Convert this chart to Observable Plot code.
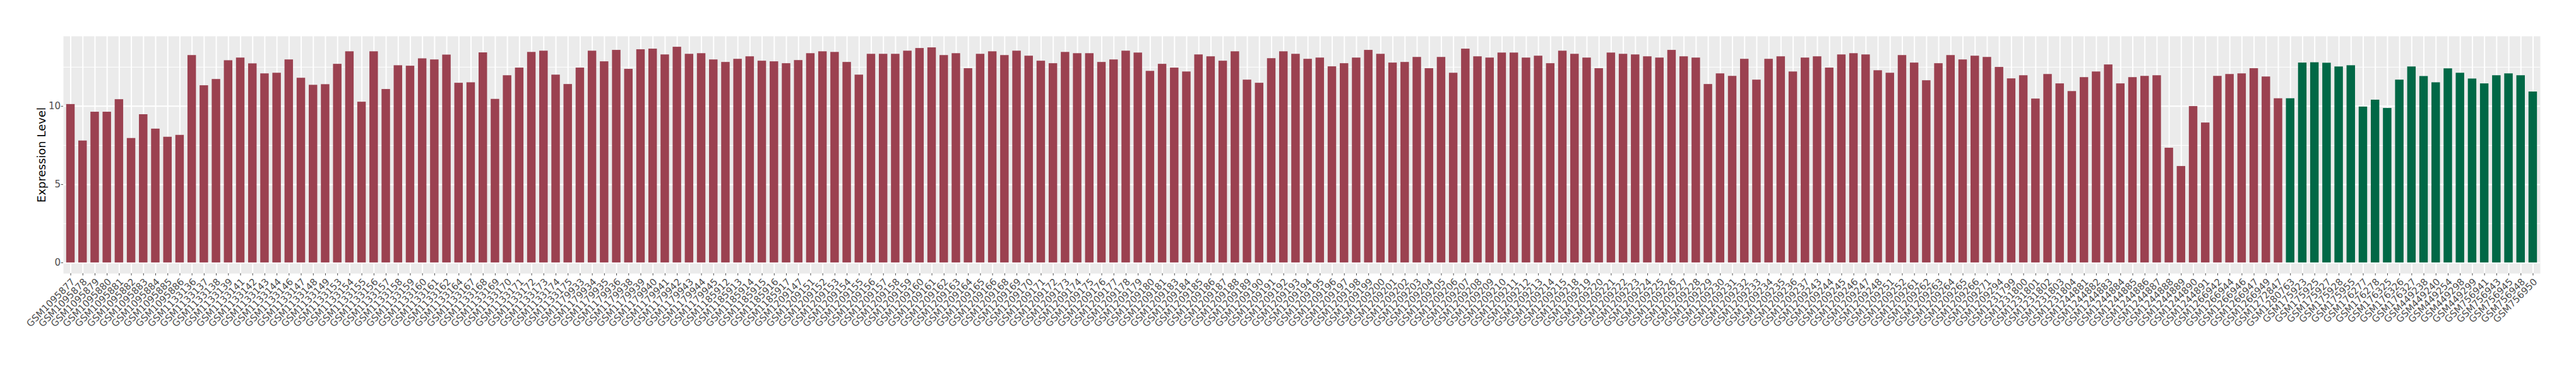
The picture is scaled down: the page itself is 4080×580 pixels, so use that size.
<!DOCTYPE html>
<html><head><meta charset="utf-8">
<script src="https://cdn.jsdelivr.net/npm/d3@7"></script>
<script src="https://cdn.jsdelivr.net/npm/@observablehq/plot@0.6"></script>
<style>body{margin:0;background:#fff;}</style>
</head><body><div id="chart"></div>
<script>
const redSamples = [
"GSM1095877","GSM1095878","GSM1095879","GSM1095880","GSM1095881","GSM1095882","GSM1095883","GSM1095884","GSM1095885","GSM1095886",
"GSM1133136","GSM1133137","GSM1133138","GSM1133139","GSM1133141","GSM1133142","GSM1133143","GSM1133144","GSM1133146","GSM1133147",
"GSM1133148","GSM1133149","GSM1133153","GSM1133154","GSM1133155","GSM1133156","GSM1133157","GSM1133158","GSM1133159","GSM1133160",
"GSM1133161","GSM1133162","GSM1133164","GSM1133167","GSM1133168","GSM1133169","GSM1133170","GSM1133171","GSM1133172","GSM1133173",
"GSM1133174","GSM1133175","GSM1179933","GSM1179934","GSM1179935","GSM1179936","GSM1179938","GSM1179939","GSM1179940","GSM1179941",
"GSM1179942","GSM1179943","GSM1179944","GSM1179945","GSM1185912","GSM1185913","GSM1185914","GSM1185915","GSM1185916","GSM1185917",
"GSM1209147","GSM1209151","GSM1209152","GSM1209153","GSM1209154","GSM1209155","GSM1209156","GSM1209157","GSM1209158","GSM1209159",
"GSM1209160","GSM1209161","GSM1209162","GSM1209163","GSM1209164","GSM1209165","GSM1209166","GSM1209168","GSM1209169","GSM1209170",
"GSM1209171","GSM1209172","GSM1209173","GSM1209174","GSM1209175","GSM1209176","GSM1209177","GSM1209178","GSM1209179","GSM1209180",
"GSM1209181","GSM1209183","GSM1209184","GSM1209185","GSM1209186","GSM1209187","GSM1209188","GSM1209189","GSM1209190","GSM1209191",
"GSM1209192","GSM1209193","GSM1209194","GSM1209195","GSM1209196","GSM1209197","GSM1209198","GSM1209199","GSM1209200","GSM1209201",
"GSM1209202","GSM1209203","GSM1209204","GSM1209205","GSM1209206","GSM1209207","GSM1209208","GSM1209209","GSM1209210","GSM1209211",
"GSM1209212","GSM1209213","GSM1209214","GSM1209215","GSM1209218","GSM1209219","GSM1209220","GSM1209221","GSM1209222","GSM1209223",
"GSM1209224","GSM1209225","GSM1209226","GSM1209227","GSM1209228","GSM1209229","GSM1209230","GSM1209231","GSM1209232","GSM1209233",
"GSM1209234","GSM1209235","GSM1209236","GSM1209237","GSM1209243","GSM1209244","GSM1209245","GSM1209246","GSM1209247","GSM1209248",
"GSM1209251","GSM1209252","GSM1209261","GSM1209262","GSM1209263","GSM1209264","GSM1209265","GSM1209266","GSM1209271","GSM1209294",
"GSM1231799","GSM1231800","GSM1231801","GSM1231802","GSM1231803","GSM1231804","GSM1244881","GSM1244882","GSM1244883","GSM1244884",
"GSM1244885","GSM1244886","GSM1244887","GSM1244888","GSM1244889","GSM1244890","GSM1244891","GSM1266942","GSM1266944","GSM1266946",
"GSM1266947","GSM1266949","GSM1272847"
];
const redValues = [
10.12,7.79,9.63,9.63,10.43,7.95,9.47,8.55,8.03,8.15,
13.25,11.32,11.72,12.92,13.09,12.72,12.08,12.12,12.97,11.80,
11.35,11.39,12.69,13.49,10.27,13.49,11.08,12.60,12.57,13.04,
12.97,13.28,11.48,11.51,13.42,10.45,11.96,12.45,13.45,13.53,
12.00,11.40,12.45,13.53,12.85,13.58,12.37,13.62,13.66,13.29,
13.78,13.33,13.37,12.97,12.81,13.01,13.17,12.89,12.85,12.73,
12.93,13.37,13.49,13.45,12.81,12.00,13.33,13.33,13.33,13.53,
13.70,13.74,13.25,13.37,12.41,13.33,13.49,13.25,13.53,13.21,
12.89,12.73,13.45,13.37,13.37,12.81,12.97,13.53,13.41,12.24,
12.69,12.45,12.20,13.29,13.17,12.89,13.49,11.68,11.48,13.05,
13.49,13.33,13.01,13.09,12.53,12.73,13.09,13.58,13.33,12.77,
12.81,13.13,12.41,13.13,12.12,13.66,13.17,13.09,13.41,13.41,
13.09,13.21,12.73,13.53,13.33,13.09,12.41,13.41,13.33,13.29,
13.17,13.09,13.58,13.17,13.09,11.40,12.08,11.92,13.01,11.68,
13.01,13.17,12.20,13.09,13.17,12.45,13.29,13.37,13.29,12.28,
12.12,13.25,12.77,11.64,12.73,13.25,12.97,13.21,13.13,12.49,
11.76,11.96,10.47,12.04,11.44,10.95,11.84,12.20,12.65,11.44,
11.84,11.92,11.96,7.33,6.16,9.99,8.94,11.92,12.04,12.08,
12.41,11.88,10.49
];
const greenSamples = [
"GSM1280763","GSM175923","GSM175925","GSM175927","GSM175928","GSM175955","GSM176277","GSM176278","GSM176325","GSM176326",
"GSM176327","GSM449238","GSM449240","GSM449254","GSM449298","GSM449299","GSM756941","GSM756943","GSM756945","GSM756948",
"GSM756950"
];
const greenValues = [
10.49,12.77,12.79,12.76,12.52,12.60,9.96,10.40,9.87,11.68,
12.52,11.91,11.51,12.40,12.12,11.75,11.44,11.96,12.08,11.96,
10.92
];
const groups = ["Group 1", "Group 2"];
const groupColors = ["#9B4150", "#006846"];
const yTicks = [0, 5, 10];
const yMinorTicks = [2.5, 7.5, 12.5];
const yTitle = "Expression Level";

const data = [
  ...redSamples.map((s, i) => ({sample: s, value: redValues[i], group: groups[0]})),
  ...greenSamples.map((s, i) => ({sample: s, value: greenValues[i], group: groups[1]}))
];
const samples = data.map(d => d.sample);

const chart = Plot.plot({
  width: 4080, height: 580,
  marginLeft: 100, marginRight: 57, marginTop: 57, marginBottom: 147,
  style: {fontFamily: "'DejaVu Sans', sans-serif", fontSize: "15px", background: "white"},
  x: {domain: samples, paddingInner: 0.3, paddingOuter: 0.25, label: null},
  y: {domain: [-0.69, 14.47], label: null},
  color: {domain: groups, range: groupColors},
  marks: [
    Plot.frame({fill: "#EBEBEB", stroke: "none"}),
    Plot.ruleY(yMinorTicks, {stroke: "white", strokeWidth: 1}),
    Plot.ruleY(yTicks, {stroke: "white", strokeWidth: 2}),
    Plot.ruleX(samples, {stroke: "white", strokeWidth: 2}),
    Plot.barY(data, {x: "sample", y: "value", fill: "group"}),
    Plot.axisY({ticks: yTicks, tickSize: 3.5, tickPadding: 1, fontSize: 15, color: "#4D4D4D", label: null}),
    Plot.axisX({tickRotate: -45, tickSize: 3.5, tickPadding: 3, textAnchor: "end", lineAnchor: "top", fontSize: 15, color: "#4D4D4D", label: null}),
    Plot.text([yTitle], {text: d => d, frameAnchor: "left", dx: -34, rotate: -90, textAnchor: "middle", fontSize: 18, fill: "black"})
  ]
});
document.getElementById("chart").appendChild(chart);
</script>
</body></html>
